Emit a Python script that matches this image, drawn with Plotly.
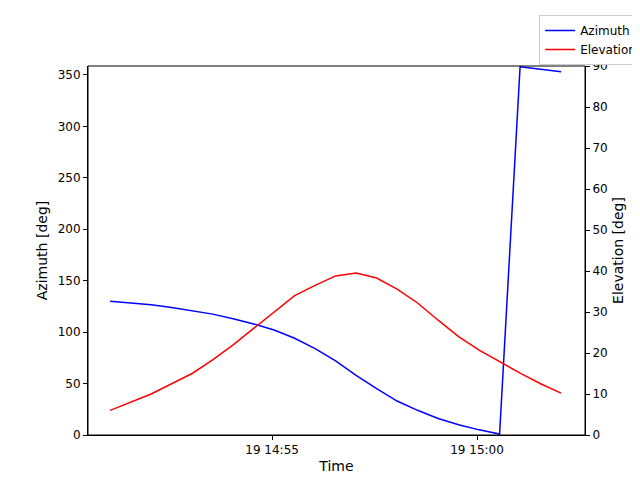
import plotly.graph_objects as go
import pandas as pd

times = pd.date_range("2024-01-19 14:51:03", periods=23, freq="30s")
azimuth = [130, 128.5, 126.5, 124, 121, 117.5, 113, 108, 102, 94, 84, 72, 58, 45, 33, 24, 16, 10, 5, 1, 358, 355.5, 353]
elevation = [6, 8, 10, 12.5, 15, 18.3, 22, 26, 30, 34, 36.5, 38.8, 39.5, 38.3, 35.6, 32.2, 28, 24, 20.7, 17.8, 15.1, 12.5, 10.2]
tick_vals = ["2024-01-19 14:55:00", "2024-01-19 15:00:00"]
tick_text = ["19 14:55", "19 15:00"]

fig = go.Figure()
fig.add_trace(go.Scatter(x=times, y=azimuth, name="Azimuth", mode="lines", line=dict(color="blue", width=1.5)))
fig.add_trace(go.Scatter(x=times, y=elevation, name="Elevation", mode="lines", line=dict(color="red", width=1.5), yaxis="y2"))

axis_common = dict(showline=True, linecolor="black", mirror=False, ticks="outside", tickcolor="black", ticklen=4,
                   showgrid=False, zeroline=False, automargin=False)
fig.update_layout(
    width=640, height=480, plot_bgcolor="white", paper_bgcolor="white",
    margin=dict(l=80, r=63, t=58, b=53, autoexpand=False),
    font=dict(family="DejaVu Sans", size=12, color="black"),
    xaxis=dict(**axis_common, range=["2024-01-19 14:50:30.6", "2024-01-19 15:02:38"], tickvals=tick_vals, ticktext=tick_text,
               title=dict(text="Time", standoff=4)),
    yaxis=dict(**axis_common, range=[0, 358.7], tickvals=list(range(0, 351, 50)), title=dict(text="Azimuth [deg]", standoff=6)),
    yaxis2=dict(**axis_common, overlaying="y", side="right", range=[0, 90], tickvals=list(range(0, 91, 10)), title=dict(text="Elevation [deg]", standoff=6)),
    legend=dict(x=1.115, y=1.138, xanchor="right", yanchor="top", bordercolor="#cccccc", borderwidth=1, bgcolor="white",
                font=dict(size=12), tracegroupgap=0, itemwidth=30),
    shapes=[dict(type="rect", xref="paper", yref="paper", x0=0, x1=1, y0=0, y1=1, line=dict(color="black", width=1))],
)
fig.write_html("out.html")
